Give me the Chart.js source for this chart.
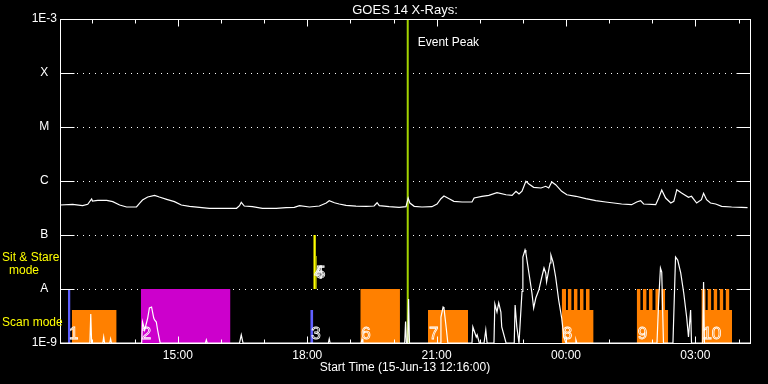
<!DOCTYPE html>
<html><head><meta charset="utf-8">
<script src="https://cdn.jsdelivr.net/npm/chart.js@4/dist/chart.umd.min.js"></script>
<style>html,body{margin:0;padding:0;background:#000;}#wrap{width:768px;height:384px;position:relative;background:#000}</style>
</head><body><div id="wrap"><canvas id="c" width="768" height="384"></canvas></div>
<script>
// ---- texts ----
const titleText = 'GOES 14 X-Rays:';
const xAxisTitle = 'Start Time (15-Jun-13 12:16:00)';
const eventText = 'Event Peak';
const sitLabel = ['Sit & Stare', 'mode'];
const scanLabel = 'Scan mode';

// ---- axes (hours of day, continuing past midnight) ----
const timeStart = 12 + 16 / 60;
const timeEnd = timeStart + 16;
const xTickValues = [15, 18, 21, 24, 27];
const xTickLabels = ['15:00', '18:00', '21:00', '00:00', '03:00'];
const yTickValues = [1e-9, 1e-8, 1e-7, 1e-6, 1e-5, 1e-4, 1e-3];
const yTickLabels = ['1E-9', 'A', 'B', 'C', 'M', 'X', '1E-3'];

// ---- GOES long channel (upper curve) ----
const longTimes = [12.27,12.56,12.79,12.91,13.00,13.02,13.14,13.35,13.49,13.65,13.81,14.04,14.11,14.18,14.30,14.46,14.57,14.74,14.92,15.08,15.27,15.50,15.73,16.03,16.36,16.43,16.47,16.54,16.73,16.96,17.28,17.51,17.70,17.82,18.05,18.28,18.44,18.51,18.63,18.74,18.90,19.13,19.37,19.55,19.62,19.67,19.90,20.13,20.29,20.34,20.38,20.48,20.66,20.89,21.01,21.10,21.17,21.29,21.40,21.59,21.82,21.87,22.05,22.21,22.40,22.61,22.75,22.84,22.91,22.98,23.07,23.14,23.25,23.42,23.53,23.60,23.67,23.76,23.90,24.02,24.23,24.46,24.69,24.92,25.11,25.29,25.52,25.64,25.73,25.80,26.08,26.15,26.22,26.31,26.43,26.50,26.57,26.68,26.84,26.91,27.03,27.14,27.19,27.26,27.35,27.47,27.61,27.84,28.07,28.21];
const longFlux = [3.59e-7,3.70e-7,3.49e-7,3.70e-7,4.64e-7,4.26e-7,4.39e-7,4.39e-7,4.14e-7,3.59e-7,3.30e-7,3.30e-7,3.86e-7,4.45e-7,5.05e-7,5.43e-7,5.05e-7,4.58e-7,4.14e-7,3.59e-7,3.40e-7,3.26e-7,3.12e-7,3.12e-7,3.12e-7,3.49e-7,4.03e-7,3.44e-7,3.34e-7,3.12e-7,3.12e-7,3.20e-7,3.26e-7,3.49e-7,3.30e-7,3.44e-7,3.91e-7,4.32e-7,3.96e-7,3.75e-7,3.55e-7,3.44e-7,3.40e-7,3.44e-7,3.96e-7,3.49e-7,3.34e-7,3.26e-7,3.34e-7,4.84e-7,3.91e-7,3.40e-7,3.30e-7,3.34e-7,3.75e-7,4.70e-7,5.27e-7,4.70e-7,4.21e-7,4.08e-7,4.08e-7,4.84e-7,5.21e-7,5.43e-7,6.07e-7,5.57e-7,5.43e-7,6.45e-7,5.74e-7,6.50e-7,9.87e-7,8.80e-7,7.64e-7,7.42e-7,7.98e-7,7.42e-7,9.58e-7,8.54e-7,6.45e-7,5.57e-7,5.21e-7,4.70e-7,4.32e-7,4.08e-7,3.91e-7,3.75e-7,3.64e-7,4.08e-7,4.32e-7,3.75e-7,3.64e-7,4.84e-7,6.81e-7,4.84e-7,3.91e-7,4.21e-7,6.90e-7,5.99e-7,4.99e-7,5.21e-7,3.91e-7,4.50e-7,5.92e-7,4.50e-7,3.91e-7,3.75e-7,3.40e-7,3.30e-7,3.26e-7,3.20e-7];

// ---- GOES short channel (lower curve) ----
const shortTimes = [12.27,12.96,12.98,13.00,13.26,13.28,13.30,13.42,13.44,13.46,14.16,14.18,14.23,14.30,14.34,14.39,14.44,14.46,14.50,14.53,14.57,14.59,15.64,15.66,15.68,16.43,16.47,16.51,18.49,18.51,18.53,19.25,19.27,19.29,20.26,20.28,20.30,20.33,20.35,20.37,21.08,21.10,21.15,21.17,21.22,21.26,21.82,21.84,21.92,21.94,21.99,22.10,22.14,22.17,22.33,22.35,22.40,22.44,22.49,22.51,22.61,22.80,22.82,22.86,22.91,22.98,23.00,23.05,23.07,23.14,23.21,23.25,23.30,23.37,23.44,23.49,23.53,23.55,23.63,23.65,23.70,23.76,23.83,23.90,23.95,24.00,24.21,24.23,24.25,26.11,26.15,26.19,26.22,26.26,26.48,26.54,26.59,26.66,26.73,26.80,26.84,26.89,26.91,27.17,27.19,27.21,28.27];
const shortFlux = [1e-9,1e-9,3.44e-9,1e-9,1e-9,1.29e-9,1e-9,1e-9,1.19e-9,1e-9,1e-9,2.45e-9,1.74e-9,2.9e-9,4.45e-9,4.64e-9,2.9e-9,2.67e-9,2.45e-9,1.74e-9,1.19e-9,1e-9,1e-9,1.14e-9,1e-9,1e-9,1.41e-9,1e-9,1e-9,1.19e-9,1e-9,1e-9,1.19e-9,1e-9,1e-9,2.5e-9,1e-9,1e-9,6.53e-9,1e-9,1e-9,3.03e-9,4.64e-9,4.45e-9,1.98e-9,1e-9,1e-9,1.98e-9,1.29e-9,1.41e-9,1e-9,1e-9,1.74e-9,1e-9,1e-9,5.28e-9,3.75e-9,5.51e-9,3.75e-9,1.98e-9,1e-9,1e-9,5.06e-9,1.98e-9,1e-9,9e-9,3.91e-8,5.28e-8,4.64e-8,1.98e-8,8.43e-9,4.45e-9,6.81e-9,9.58e-9,1.67e-8,2.45e-8,1.98e-8,1.35e-8,3.03e-8,4.26e-8,3.16e-8,1.67e-8,6.25e-9,2.9e-9,1.29e-9,1e-9,1e-9,1.14e-9,1e-9,1e-9,6.25e-9,2.45e-8,2.06e-8,1e-9,1e-9,3.91e-8,3.44e-8,1.98e-8,8.43e-9,2.9e-9,1.29e-9,4.08e-9,1e-9,1e-9,1.35e-8,1e-9,1e-9];

const eventPeakTime = 20.33;

// ---- observation blocks ----
const blockStart = [12.45, 12.54, 14.14, 18.07, 18.14, 18.20, 19.23, 20.80, 23.90, 25.64, 27.14];
const blockEnd   = [12.51, 13.58, 16.22, 18.14, 18.20, 18.22, 20.15, 21.73, 24.64, 26.37, 27.85];
const blockLow   = [1e-9, 1e-9, 1e-9, 1e-9, 1e-8, 1e-8, 1e-9, 1e-9, 1e-9, 1e-9, 1e-9];
const blockHigh  = [1e-8, 4.1e-9, 1e-8, 4.1e-9, 1e-7, 4.1e-8, 1e-8, 4.1e-9, 4.1e-9, 4.1e-9, 4.1e-9];
const blockType  = ['b', 'o', 'm', 'b', 'y', 'y', 'o', 'o', 'o', 'o', 'o'];
const toothStart = [23.90,24.04,24.18,24.32,24.46, 25.64,25.78,25.92,26.07,26.21, 27.14,27.28,27.42,27.56,27.70];
const toothEnd   = [24.00,24.13,24.27,24.41,24.55, 25.73,25.87,26.01,26.16,26.30, 27.24,27.37,27.51,27.65,27.79];
const toothLow = 4.1e-9, toothHigh = 1e-8;
const obsNumbers = ['1','2','3','4','5','6','7','8','9','10'];
const obsTimes   = [12.45, 14.14, 18.07, 18.14, 18.18, 19.23, 20.80, 23.90, 25.64, 27.14];
const obsLevel   = [1e-9, 1e-9, 1e-9, 1e-8, 1e-8, 1e-9, 1e-9, 1e-9, 1e-9, 1e-9];

// ---- styles ----
const typeColor = {b: '#5f5fff', o: '#ff8000', m: '#cc00cc', y: '#ffff00'};
const FONT = 'Liberation Sans';

const datasets = [];
datasets.push({data: longTimes.map((t, i) => ({x: t, y: longFlux[i]})), borderColor: '#fff', borderWidth: 1.2, pointRadius: 0, fill: false, order: 0});
datasets.push({data: shortTimes.map((t, i) => ({x: t, y: shortFlux[i]})), borderColor: '#fff', borderWidth: 1.2, pointRadius: 0, fill: false, order: 0});
datasets.push({data: [{x: eventPeakTime, y: 1e-9}, {x: eventPeakTime, y: 1e-3}], borderColor: '#a3d400', borderWidth: 2, pointRadius: 0, fill: false, order: 1});
function rect(s, e, lo, hi, col) {
  datasets.push({data: [{x: s, y: hi}, {x: e, y: hi}], fill: {value: lo}, backgroundColor: col,
    borderColor: 'rgba(0,0,0,0)', borderWidth: 0, pointRadius: 0, order: 2});
}
blockStart.forEach((s, i) => rect(s, blockEnd[i], blockLow[i], blockHigh[i], typeColor[blockType[i]]));
toothStart.forEach((s, i) => rect(s, toothEnd[i], toothLow, toothHigh, typeColor.o));

const decor = {
  id: 'decor',
  beforeDatasetsDraw(chart) {
    const {ctx, chartArea: a, scales: {y}} = chart;
    ctx.save();
    ctx.strokeStyle = '#fff'; ctx.lineWidth = 1;
    ctx.setLineDash([1, 5]); ctx.lineDashOffset = 3;
    yTickValues.slice(1, -1).forEach(v => {
      const py = Math.round(y.getPixelForValue(v)) + 0.5;
      ctx.beginPath(); ctx.moveTo(a.left + 14, py); ctx.lineTo(a.right - 14, py); ctx.stroke();
    });
    ctx.restore();
  },
  afterDatasetsDraw(chart) {
    const {ctx, chartArea: a, scales: {x, y}} = chart;
    ctx.save();
    ctx.strokeStyle = '#fff'; ctx.lineWidth = 1;
    const L = Math.round(a.left) + 0.5, R = Math.round(a.right) + 0.5, T = Math.round(a.top) + 0.5, B = Math.round(a.bottom) + 0.5;
    ctx.strokeRect(L, T, R - L, B - T);
    ctx.beginPath();
    yTickValues.forEach(v => {
      const py = Math.round(y.getPixelForValue(v)) + 0.5;
      ctx.moveTo(L, py); ctx.lineTo(L + 14, py);
      ctx.moveTo(R, py); ctx.lineTo(R - 14, py);
    });
    for (let h = Math.ceil(timeStart); h <= timeEnd; h++) {
      const px = Math.round(x.getPixelForValue(h)) + 0.5;
      const len = (h % 3 === 0) ? 7 : 4;
      ctx.moveTo(px, T); ctx.lineTo(px, T + len);
      ctx.moveTo(px, B); ctx.lineTo(px, B - len);
    }
    ctx.stroke();
    // observation numbers (outlined)
    ctx.font = '17px "' + FONT + '"';
    ctx.lineWidth = 0.8;
    ctx.textAlign = 'left'; ctx.textBaseline = 'alphabetic';
    obsNumbers.forEach((n, i) => {
      const px = x.getPixelForValue(obsTimes[i]) + 1;
      const base = y.getPixelForValue(obsLevel[i]);
      const py = obsLevel[i] > y.min ? base - 11 : base - 4;
      ctx.strokeText(n, px, py);
    });
    // texts
    ctx.fillStyle = '#fff';
    ctx.font = '13px "' + FONT + '"';
    ctx.textAlign = 'center'; ctx.textBaseline = 'middle';
    ctx.fillText(titleText, (a.left + a.right) / 2, 10);
    ctx.font = '12px "' + FONT + '"';
    ctx.textAlign = 'left';
    ctx.fillText(eventText, x.getPixelForValue(eventPeakTime) + 10, 43);
    ctx.fillStyle = '#ffff00';
    ctx.fillText(sitLabel[0], 2, 258);
    ctx.textAlign = 'center';
    ctx.fillText(sitLabel[1], 24, 271);
    ctx.textAlign = 'left';
    ctx.fillText(scanLabel, 2, 323);
    ctx.restore();
  }
};

new Chart(document.getElementById('c'), {
  type: 'line',
  data: {datasets},
  options: {
    responsive: false, animation: false, devicePixelRatio: 1,
    layout: {padding: {top: 19, right: 18, left: 0, bottom: 0}},
    plugins: {legend: {display: false}, tooltip: {enabled: false}, title: {display: false}},
    elements: {line: {tension: 0}, point: {radius: 0}},
    scales: {
      x: {
        type: 'linear', min: timeStart, max: timeEnd,
        grid: {display: false, drawTicks: false}, border: {display: false},
        afterBuildTicks: s => { s.ticks = xTickValues.map(v => ({value: v})); },
        afterFit: s => { s.height = 41; },
        ticks: {color: '#fff', font: {family: FONT, size: 12}, padding: 5, maxRotation: 0, autoSkip: false,
          callback: (v, i) => xTickLabels[i]},
        title: {display: true, text: xAxisTitle, color: '#fff', font: {family: FONT, size: 12}, padding: {top: 0, bottom: 9}}
      },
      y: {
        type: 'logarithmic', min: 1e-9, max: 1e-3,
        grid: {display: false, drawTicks: false}, border: {display: false},
        afterBuildTicks: s => { s.ticks = yTickValues.map(v => ({value: v})); },
        afterFit: s => { s.width = 60; },
        ticks: {color: '#fff', font: {family: FONT, size: 12}, padding: 3, crossAlign: 'center', autoSkip: false,
          callback: (v, i) => yTickLabels[i]}
      }
    }
  },
  plugins: [decor]
});
</script></body></html>
